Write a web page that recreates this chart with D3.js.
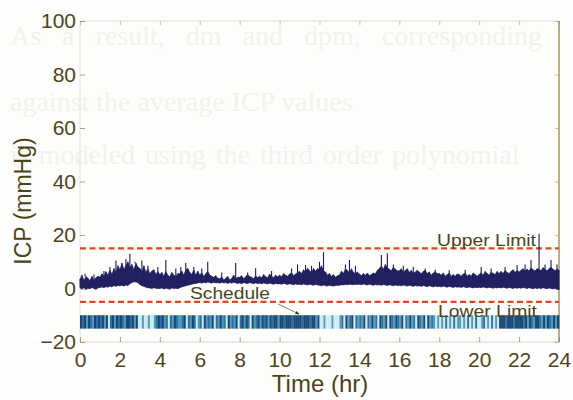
<!DOCTYPE html>
<html>
<head>
<meta charset="utf-8">
<script src="https://cdn.jsdelivr.net/npm/d3@7"></script>
<style>
  html, body { margin: 0; padding: 0; background: #fdfdfb; }
  svg { display: block; }
  text { font-family: "Liberation Sans", Arial, Helvetica, sans-serif; }
</style>
</head>
<body>
<svg id="chart" width="573" height="400"></svg>
<script>
// ---- data -------------------------------------------------------------
const xTickValues = [0, 2, 4, 6, 8, 10, 12, 14, 16, 18, 20, 22, 24];
const yTickValues = [-20, 0, 20, 40, 60, 80, 100];

// ICP samples every 0.1 h (24 h -> 241 samples): lower and upper edge of the trace
const sampleStep = 0.1;
const icpHigh = [
  3.5,5,3,4.5,3.8,3,4.5,3.2,4,4.6,
  4.2,5.5,4.5,6.3,5,7,5.2,7.5,6,8.5,
  7,9.5,7.2,8.5,10,7.8,9,7,9.5,8,
  7.5,6.2,8.5,6,7.5,5.5,6.5,7,5.2,6.4,
  5.2,6,4.6,6.5,5,4.4,6,5,4.5,5.6,
  5.5,6.5,5,7,7.5,6,5.2,7,5,6.5,
  5,6,4.5,5.5,6.5,5,4.6,4.2,4.8,3.8,
  3.6,4.4,3.2,3.8,4.5,3.2,3.8,5,3.6,4.2,
  4.2,4.8,3.6,4.4,5.2,4.5,4.2,3.6,4.8,4,
  4.6,4,5.2,4.4,4,5.4,4.6,4,5,4.4,
  5,4.4,5.6,5,4.6,5.4,6,4.8,5.4,6,
  6.4,5.6,7,6.2,7.6,6.6,6,7.5,6.5,7.4,
  7.2,8.5,6.5,6.2,5,5.6,4.5,5.2,4.2,4.8,
  5,6.5,5.6,7.5,6.6,6,7.4,6,5.6,6.2,
  5.4,4.8,5.6,5,5.8,4.8,5.2,5.8,5.5,6.8,
  7.5,8.5,7.2,9,7.8,7.2,6.6,8,7.2,6.6,
  6.6,7.4,6,6.8,7.4,6,6.8,5.6,6.2,6.8,
  6.2,5.5,6.4,6.8,5.6,6.2,5,5.8,6.3,5.5,
  5.6,5,5.8,4.6,5.2,5.8,4.6,5.2,4.6,5.4,
  5.2,4.6,5.4,5.8,4.6,5.2,4.6,5.8,5.2,4.6,
  5.2,6,5,6.4,5.6,5,6.2,5.6,5.2,6.4,
  5.6,6.4,5.6,6.8,6,5.6,6.4,7,6,6.8,
  6.2,6.8,7.4,6.6,7.2,6.6,7.8,7,6.6,7.4,
  7.2,6.6,7.8,7.2,6.6,7.4,8,7.2,6.6,7.4,
  6.8
];
const icpLow = [
  0.3,-0.2,0.4,-0.4,0.1,-0.1,0.4,0,-0.3,0.2,
  0.4,0.6,0.3,0.7,0.5,0.9,0.6,1.1,0.8,1.1,
  1,1.2,0.9,1.3,1.1,1.8,2.2,2.5,2.4,2.2,
  1.5,1,0.8,0.5,0.3,0.2,0,0.3,0.1,0,
  0,0.2,-0.2,0.1,0,-0.3,0.2,0,0.1,-0.1,
  0.3,0.6,0.8,1,1.2,1.4,1.6,1.8,1.9,2.1,
  2.2,2,2.3,2.1,2.4,2.2,2,2.3,2.1,2.2,
  2,2.3,2.1,2.2,1.9,2.2,2,2.3,2.1,1.9,
  2.1,1.8,2.2,2,1.9,2.2,2,1.8,2.1,1.9,
  2,1.8,2.1,1.9,1.7,2,1.8,1.6,1.9,1.7,
  1.8,1.6,1.9,1.7,1.5,1.8,1.6,1.4,1.7,1.5,
  1.6,1.4,1.7,1.5,1.3,1.6,1.4,1.2,1.5,1.3,
  1.2,1,1.3,1.1,0.9,1.2,1,0.9,1.1,1.2,
  1.2,1.4,1.3,1.5,1.4,1.6,1.5,1.4,1.6,1.5,
  1.6,1.4,1.7,1.5,1.3,1.6,1.4,1.2,1.5,1.3,
  1.4,1.2,1.5,1.3,1.1,1.4,1.2,1,1.3,1.1,
  1.2,1,1.3,1.1,0.9,1.2,1,0.8,1.1,0.9,
  1,0.8,1.1,0.9,0.7,1,0.8,0.6,0.9,0.7,
  0.8,0.6,0.9,0.7,0.5,0.8,0.6,0.4,0.7,0.5,
  0.6,0.4,0.7,0.5,0.3,0.6,0.4,0.2,0.5,0.3,
  0.5,0.3,0.6,0.4,0.2,0.5,0.3,0.1,0.4,0.2,
  0.4,0.2,0.5,0.3,0.1,0.4,0.2,0,0.3,0.1,
  0.3,0.1,0.4,0.2,0,0.3,0.1,-0.1,0.2,0,
  0.2,0,0.3,0.1,-0.1,0.2,0,-0.2,0.1,-0.3,
  -0.4
];

// isolated peaks rising out of the trace
const spikeTimes = [
  0.25, 0.7, 1.2, 1.5, 1.8, 2.1, 2.3, 2.5, 2.75, 3.1, 3.4, 3.9, 4.3, 4.8, 5.05, 5.3, 5.7,
  6.1, 6.4, 7.1, 7.8, 8.4, 8.8, 9.6, 10.6, 10.9, 11.3, 11.6, 12.0, 12.2, 13.3, 13.5, 13.8,
  15.1, 15.4, 15.7, 16.2, 16.7, 17.3, 17.8, 18.5, 19.3, 20.1, 20.6, 21.3, 21.9, 22.3, 22.6,
  23.0, 23.3, 23.6, 23.9
];
const spikePeaks = [
  5.5, 5.2, 6.5, 8, 10.5, 9.5, 11, 13, 10, 10.5, 8.5, 8, 10.7, 7.5, 8, 9.5, 8,
  7.5, 10, 6, 9.5, 6, 7.6, 6.5, 7.5, 9, 8.8, 8.5, 10, 13.6, 9, 10.7, 8.5,
  12.5, 13.2, 9, 8.5, 8, 7.5, 7, 6.8, 7, 8, 7.5, 8, 8.8, 9, 10.7,
  20.5, 9, 10.7, 9
];

// alarm limits
const upperLimit = 15;
const lowerLimit = -5;

// schedule strip: one code per 0.1 h, one string per hour
// 0 dark, 1 blue, 2 teal, 3 pale
const scheduleHours = [
  "0102012010", "1020310201", "0120010203", "3233233210",
  "1021312012", "2103120132", "1302120312", "0213021203",
  "1020130210", "2010201002", "0010001000", "0100010020",
  "3323332333", "2130210312", "1203120213", "0120301201",
  "2031202130", "1203021232", "3231323132", "2323132313",
  "3213231323", "0001000100", "0010201200", "1202012020"
];
const scheduleTop = -10;
const scheduleBottom = -15;
const scheduleColors = ["#1b4874", "#2f72a2", "#4f9dbd", "#d3e9f2"];

// text of the facing page showing through the paper
const pageLines = [
  "As a result, dm and dpm, corresponding",
  "against the average ICP values",
  "is modeled using the third order polynomial"
];
const pageBaselines = [45, 111, 164];
const pageWordSpacing = [14, 0, 3];

// ---- drawing ----------------------------------------------------------
const svg = d3.select("#chart");
const inkText = "#4e4418";
const axisInk = "#8c7d3e";
const traceInk = "#1c1a57";

const x = d3.scaleLinear().domain([0, 24]).range([80, 559]);
const y = d3.scaleLinear().domain([-20, 100]).range([342, 21]);

// faint print from the other side of the page
svg.append("g")
  .selectAll("text")
  .data(pageLines)
  .join("text")
  .attr("x", 10)
  .attr("y", (d, i) => pageBaselines[i])
  .style("font-family", "'Liberation Serif', 'DejaVu Serif', serif")
  .attr("font-size", 28)
  .attr("word-spacing", (d, i) => pageWordSpacing[i])
  .attr("fill", "#f1f1ee")
  .text(d => d);

// plot frame: faint left/top/bottom, darker right edge
svg.append("line").attr("x1", x(0)).attr("x2", x(24)).attr("y1", y(100)).attr("y2", y(100))
  .attr("stroke", "#e2ded0").attr("stroke-width", 1);
svg.append("line").attr("x1", x(0)).attr("x2", x(0)).attr("y1", y(100)).attr("y2", y(-20))
  .attr("stroke", "#e2ded0").attr("stroke-width", 1);
svg.append("line").attr("x1", x(0)).attr("x2", x(24)).attr("y1", y(-20)).attr("y2", y(-20))
  .attr("stroke", "#d9d4bf").attr("stroke-width", 1);
svg.append("line").attr("x1", x(24)).attr("x2", x(24)).attr("y1", y(100)).attr("y2", y(-20))
  .attr("stroke", axisInk).attr("stroke-width", 1.2);

// axes with inward ticks
const xAxis = svg.append("g").attr("transform", `translate(0,${y(-20)})`)
  .call(d3.axisBottom(x).tickValues(xTickValues).tickSize(-5).tickPadding(7).tickFormat(d3.format("d")));
const yAxis = svg.append("g").attr("transform", `translate(${x(0)},0)`)
  .call(d3.axisLeft(y).tickValues(yTickValues).tickSize(-5).tickPadding(4).tickFormat(d3.format("d")));
const xTop = svg.append("g").attr("transform", `translate(0,${y(100)})`)
  .call(d3.axisTop(x).tickValues(xTickValues).tickSize(-4).tickFormat(""));
const yRight = svg.append("g").attr("transform", `translate(${x(24)},0)`)
  .call(d3.axisRight(y).tickValues(yTickValues).tickSize(-4).tickFormat(""));

[xAxis, yAxis, xTop, yRight].forEach(g => {
  g.select(".domain").remove();
  g.selectAll(".tick line").attr("stroke", axisInk).attr("stroke-opacity", 0.7);
});
[xTop, yRight].forEach(g => g.selectAll(".tick line").attr("stroke-opacity", 0.45));

xAxis.selectAll(".tick text")
  .attr("fill", inkText).attr("font-size", 21)
  .attr("dy", "0.85em");
yAxis.selectAll(".tick text")
  .attr("fill", inkText).attr("font-size", 21);

// axis titles
svg.append("text")
  .attr("x", 320).attr("y", 392)
  .attr("text-anchor", "middle")
  .attr("font-size", 24)
  .attr("fill", inkText)
  .text("Time (hr)");
svg.append("text")
  .attr("transform", `translate(31,201) rotate(-90)`)
  .attr("text-anchor", "middle")
  .attr("font-size", 23)
  .attr("fill", inkText)
  .text("ICP (mmHg)");

// schedule strip
const stripW = x(sampleStep) - x(0);
const stripCells = scheduleHours.flatMap((s, h) =>
  s.split("").map((c, k) => ({ t: h + k * sampleStep, code: +c })));
svg.append("g")
  .selectAll("rect")
  .data(stripCells)
  .join("rect")
  .attr("x", d => x(d.t))
  .attr("y", y(scheduleTop))
  .attr("width", stripW + 0.3)
  .attr("height", y(scheduleBottom) - y(scheduleTop))
  .attr("fill", d => scheduleColors[d.code]);

// limit lines
const limitGroup = svg.append("g");
[upperLimit, lowerLimit].forEach(v => {
  limitGroup.append("line")
    .attr("x1", x(0)).attr("x2", x(24))
    .attr("y1", y(v)).attr("y2", y(v))
    .attr("stroke", "#e8431f")
    .attr("stroke-width", 2.4)
    .attr("stroke-dasharray", "6,3.5");
});

// ICP trace: band between lower and upper edge
const band = d3.area()
  .x((d, i) => x(i * sampleStep))
  .y0((d, i) => y(icpLow[i]))
  .y1((d, i) => y(icpHigh[i]));
svg.append("path")
  .datum(icpHigh)
  .attr("d", band)
  .attr("fill", traceInk)
  .attr("stroke", traceInk)
  .attr("stroke-width", 0.6)
  .attr("stroke-linejoin", "round");

// the raw trace swings between the two edges
const swing = icpHigh.flatMap((h, i) => [[i * sampleStep, icpLow[i]], [i * sampleStep, h]]);
svg.append("path")
  .datum(swing)
  .attr("d", d3.line().x(d => x(d[0])).y(d => y(d[1])))
  .attr("fill", "none")
  .attr("stroke", "#2a2a6e")
  .attr("stroke-width", 0.7)
  .attr("stroke-opacity", 0.8);

// peaks
svg.append("g")
  .selectAll("line")
  .data(spikeTimes.map((t, i) => ({ t, peak: spikePeaks[i] })))
  .join("line")
  .attr("x1", d => x(d.t)).attr("x2", d => x(d.t))
  .attr("y1", d => y(icpHigh[Math.round(d.t / sampleStep)]))
  .attr("y2", d => y(d.peak))
  .attr("stroke", traceInk)
  .attr("stroke-width", 1.1);

// annotations
const note = svg.append("g").attr("fill", inkText);
note.append("text").attr("x", 437).attr("y", 246).attr("font-size", 17)
  .attr("textLength", 99).attr("lengthAdjust", "spacingAndGlyphs").text("Upper Limit");
note.append("text").attr("x", 438).attr("y", 317).attr("font-size", 17)
  .attr("textLength", 99).attr("lengthAdjust", "spacingAndGlyphs").text("Lower Limit");
note.append("text").attr("x", 190).attr("y", 299).attr("font-size", 16)
  .attr("textLength", 80).attr("lengthAdjust", "spacingAndGlyphs").text("Schedule");

// arrow from the "Schedule" label to the strip
svg.append("defs").append("marker")
  .attr("id", "arrowHead")
  .attr("viewBox", "0 0 10 10").attr("refX", 9).attr("refY", 5)
  .attr("markerWidth", 5).attr("markerHeight", 5)
  .attr("orient", "auto")
  .append("path").attr("d", "M0,1 L10,5 L0,9 Z").attr("fill", "#3a3416");
svg.append("line")
  .attr("x1", 278).attr("y1", 304)
  .attr("x2", 299).attr("y2", 314)
  .attr("stroke", "#6b6040").attr("stroke-width", 0.8)
  .attr("marker-end", "url(#arrowHead)");
</script>
</body>
</html>
